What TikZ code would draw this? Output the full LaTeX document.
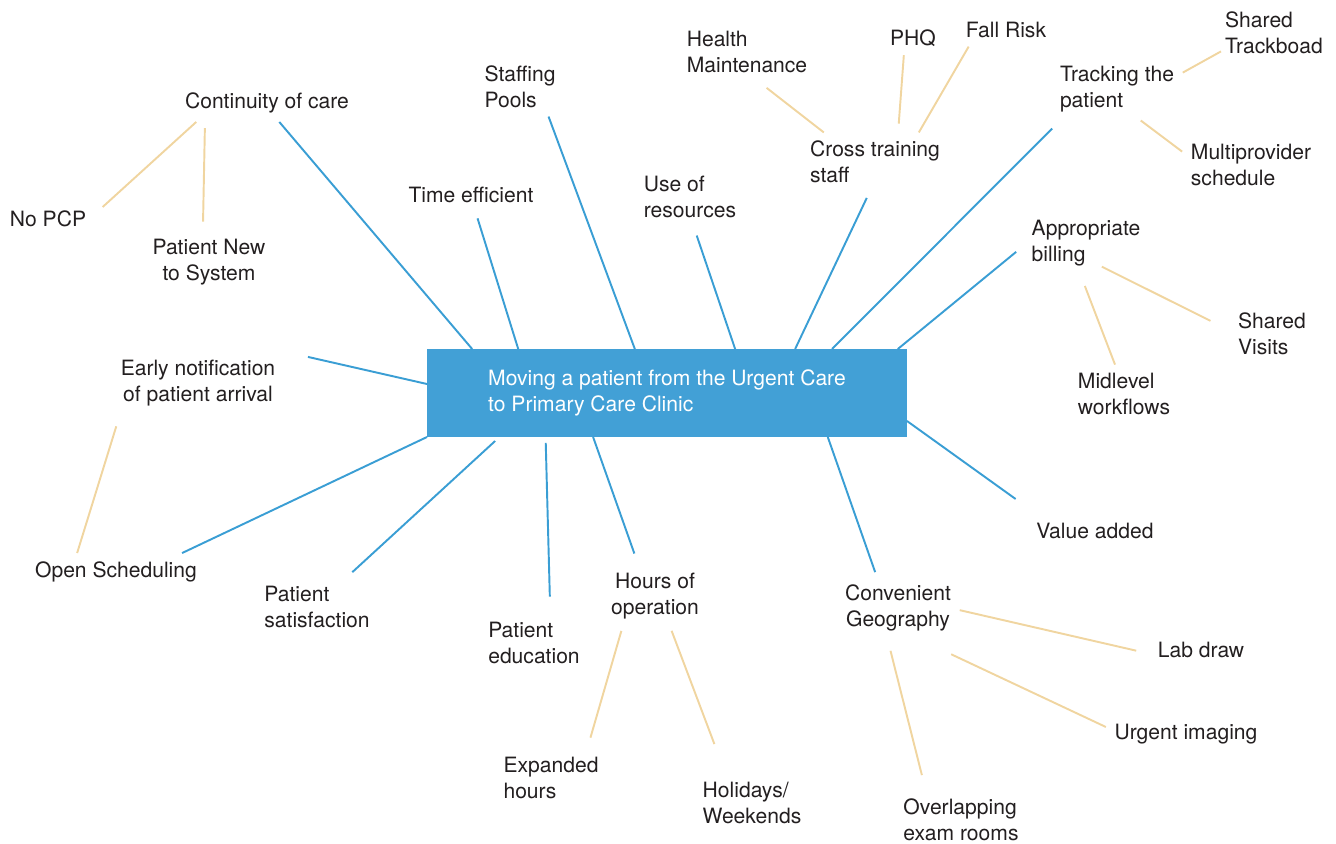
\documentclass[tikz,border=0pt]{standalone}
\usepackage{fontspec}
\setmainfont{TeX Gyre Heros}
\usetikzlibrary{positioning,calc}
\definecolor{maphubblue}{RGB}{66,160,214}
\definecolor{mapblue}{RGB}{58,158,212}
\definecolor{maptan}{RGB}{240,213,160}
\definecolor{mapdark}{RGB}{35,31,32}
\newcommand{\mapfont}{\fontsize{12}{14.5}\selectfont}
\tikzset{
  maphub/.style={
    fill=maphubblue,
    text=white,
    align=left,
    font=\mapfont,
    minimum width=9.6cm,
    minimum height=1.76cm,
    inner sep=0pt,
    outer sep=0pt
  },
  maplabel/.style={
    text=mapdark,
    font=\mapfont,
    inner sep=2pt,
    outer sep=3pt
  },
  mainlink/.style={draw=mapblue, line width=1.1pt},
  sublink/.style={draw=maptan, line width=1.1pt}
}
\begin{document}
\begin{tikzpicture}[x=0.02cm, y=-0.02cm]
  \useasboundingbox (0,0) rectangle (1336,844);
  \node[maphub] (hub) at (667,393) {Moving a patient from the Urgent Care\\to Primary Care Clinic};

  \node[maplabel] (cont) at (267,103) {Continuity of care};
  \node[maplabel] (nopcp) at (48,219) {No PCP};
  \node[maplabel, align=center] (newsys) at (209,262) {Patient New\\to System};
  \node[maplabel] (timeeff) at (471,195) {Time efficient};
  \node[maplabel, align=left] (staff) at (520,87) {Staffing\\Pools};
  \node[maplabel, align=left] (useres) at (690,197) {Use of\\resources};
  \node[maplabel, align=left] (health) at (747,52) {Health\\Maintenance};
  \node[maplabel] (phq) at (913,38) {PHQ};
  \node[maplabel] (fall) at (1006,30) {Fall Risk};
  \node[maplabel, align=left] (cross) at (875,162) {Cross training\\staff};
  \node[maplabel, align=left] (track) at (1117,89) {Tracking the\\patient};
  \node[maplabel, align=left] (board) at (1274,33) {Shared\\Trackboad};
  \node[maplabel, align=left] (multi) at (1251,165) {Multiprovider\\schedule};
  \node[maplabel, align=left] (billing) at (1086,243) {Appropriate\\billing};
  \node[maplabel, align=left] (visits) at (1272,334) {Shared\\Visits};
  \node[maplabel, align=left] (midlevel) at (1124,394) {Midlevel\\workflows};
  \node[maplabel, align=center] (early) at (198,383) {Early notification\\of patient arrival};
  \node[maplabel] (opensch) at (116,572) {Open Scheduling};
  \node[maplabel, align=left] (satisf) at (317,607) {Patient\\satisfaction};
  \node[maplabel, align=left] (educ) at (534,643) {Patient\\education};
  \node[maplabel, align=center] (hours) at (655,596) {Hours of\\operation};
  \node[maplabel, align=left] (expanded) at (551,778) {Expanded\\hours};
  \node[maplabel, align=left] (holidays) at (752,803) {Holidays/\\Weekends};
  \node[maplabel, align=center] (geo) at (898,608) {Convenient\\Geography};
  \node[maplabel] (lab) at (1201,650) {Lab draw};
  \node[maplabel] (imaging) at (1186,734) {Urgent imaging};
  \node[maplabel, align=left] (overlap) at (961,820) {Overlapping\\exam rooms};
  \node[maplabel] (value) at (1095,531) {Value added};

  \draw[mainlink] ($(hub.north west)!0.094!(hub.north east)$) -- (cont.-57);
  \draw[mainlink, shorten >=4pt] ($(hub.north west)!0.19!(hub.north east)$) -- (timeeff.-75);
  \draw[mainlink] ($(hub.north west)!0.433!(hub.north east)$) -- (staff.-46);
  \draw[mainlink, shorten >=5.5pt] ($(hub.north west)!0.642!(hub.north east)$) -- (useres.-83.2);
  \draw[mainlink, shorten >=4pt] ($(hub.north west)!0.767!(hub.north east)$) -- (cross.-100.2);
  \draw[mainlink, shorten >=6.5pt] ($(hub.north west)!0.844!(hub.north east)$) -- (track.-151);
  \draw[mainlink, shorten >=5pt] ($(hub.north west)!0.981!(hub.north east)$) -- (billing.-177.3);
  \draw[mainlink, shorten >=15pt] ($(hub.north east)!0.818!(hub.south east)$) -- (value.164.5);
  \draw[mainlink, shorten >=14pt] ($(hub.north west)!0.398!(hub.south west)$) -- (early.north east);
  \draw[mainlink] (hub.south west) -- (opensch.16.9);
  \draw[mainlink, shorten <=3.4pt, shorten >=4.6pt] ($(hub.south west)!0.151!(hub.south east)$) -- (satisf.45.5);
  \draw[mainlink, shorten <=3.4pt, shorten >=9.7pt] ($(hub.south west)!0.247!(hub.south east)$) -- (educ.61.9);
  \draw[mainlink, shorten >=6.6pt] ($(hub.south west)!0.346!(hub.south east)$) -- (hours.118.9);
  \draw[mainlink, shorten >=2.5pt] ($(hub.south west)!0.835!(hub.south east)$) -- (geo.124.4);

  \draw[sublink, shorten >=6pt] (cont.-165.8) -- (nopcp.6.9);
  \draw[sublink, shorten <=3.5pt, shorten >=5pt] (cont.-163) -- (newsys.101.1);
  \draw[sublink, shorten >=6pt] (cross.150.7) -- (health.-69);
  \draw[sublink, shorten <=5pt] (cross.52.6) -- (phq.-118.4);
  \draw[sublink] (cross.34.2) -- (fall.-156.8);
  \draw[sublink, shorten >=-3pt] (track.14.2) -- (board.-160.6);
  \draw[sublink] (track.-53.1) -- (multi.169.5);
  \draw[sublink, shorten <=-10pt, shorten >=12pt] (billing.-45) -- (visits.175.5);
  \draw[sublink, shorten <=7pt] (billing.-100.9) -- (midlevel.107.8);
  \draw[sublink, shorten <=7pt] (early.-158.9) -- (opensch.154.5);
  \draw[sublink, shorten <=2pt, shorten >=6.5pt] (hours.-136.8) -- (expanded.39.4);
  \draw[sublink, shorten <=2pt, shorten >=18pt] (hours.-64.9) -- (holidays.132.2);
  \draw[sublink, shorten >=7.5pt] (geo.-2.7) -- (lab.-176.8);
  \draw[sublink, shorten <=19.5pt] (geo.-55.9) -- (imaging.175.9);
  \draw[sublink, shorten <=6.5pt, shorten >=9pt] (geo.-108.5) -- (overlap.140.8);
\end{tikzpicture}
\end{document}
